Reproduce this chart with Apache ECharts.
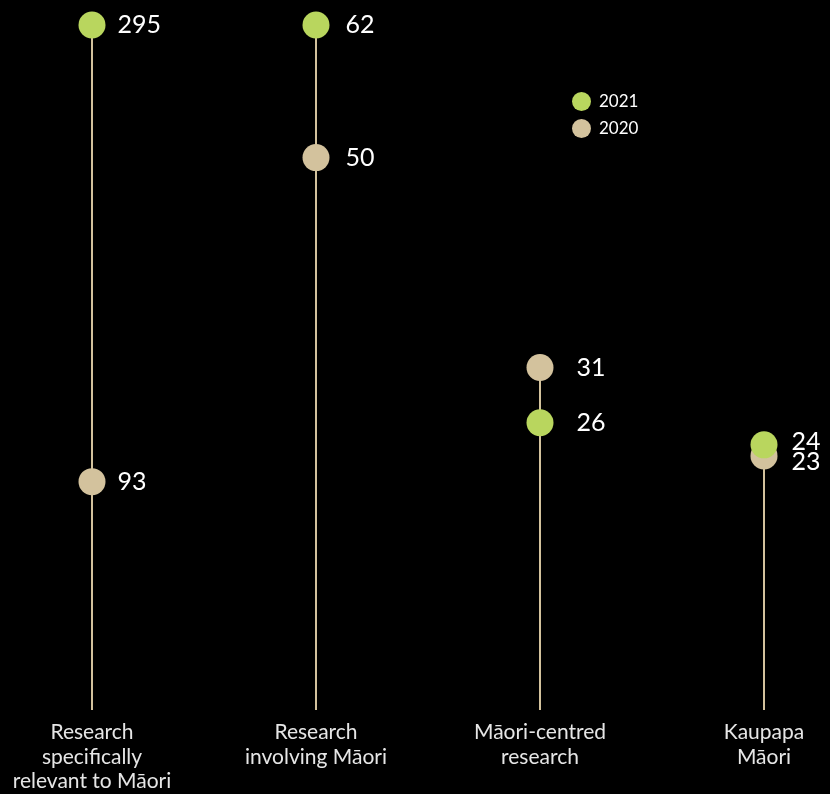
<!DOCTYPE html>
<html>
<head>
<meta charset="utf-8">
<script src="https://cdn.jsdelivr.net/npm/echarts@6/dist/echarts.min.js"></script>
<style>
  html, body { margin: 0; padding: 0; background: #000; }
  #chart { width: 830px; height: 794px; }
</style>
</head>
<body>
<div id="chart"></div>
<script>
// ---- data ----
const categories = ['Research\nspecifically\nrelevant to Māori', 'Research\ninvolving Māori', 'Māori-centred\nresearch', 'Kaupapa\nMāori'];
const years = ['2021', '2020'];
const values2021 = [295, 62, 26, 24];
const values2020 = [93, 50, 31, 23];
// which hidden scale each category uses (first category drawn on its own scale)
const scaleIndex = [0, 1, 1, 1];

// ---- layout / style ----
const labelGap = [12, 16, 23, 14];
const labelDy2020 = [0, 0, 0, 6];
const labelDy2021 = [0, 0, 0, -3];
const GREEN = '#b9d65e';
const TAN = '#d3c29d';
const FONT = 'Lato, "Noto Sans", sans-serif';

function pointsFor(values, axisIdx, dyArr) {
  const out = [];
  values.forEach((v, i) => {
    if (scaleIndex[i] !== axisIdx) return;
    out.push({
      value: [i, v],
      label: { distance: labelGap[i], offset: [0, dyArr[i]] }
    });
  });
  return out;
}

function stemsFor(axisIdx) {
  const out = [];
  categories.forEach((c, i) => {
    if (scaleIndex[i] !== axisIdx) return;
    out.push([i, Math.max(values2021[i], values2020[i])]);
  });
  return out;
}

function stemSeries(axisIdx) {
  return {
    type: 'custom',
    yAxisIndex: axisIdx,
    silent: true,
    z: 1,
    data: stemsFor(axisIdx),
    renderItem: function (params, api) {
      const top = api.coord([api.value(0), api.value(1)]);
      const bottom = params.coordSys.y + params.coordSys.height;
      return {
        type: 'line',
        shape: { x1: top[0], y1: top[1], x2: top[0], y2: bottom },
        style: { stroke: TAN, lineWidth: 2 }
      };
    }
  };
}

function dotSeries(name, values, axisIdx, color, z, dyArr) {
  return {
    name: name,
    type: 'scatter',
    yAxisIndex: axisIdx,
    symbol: 'circle',
    symbolSize: 27,
    z: z,
    itemStyle: { color: color, opacity: 1 },
    label: {
      show: true,
      position: 'right',
      color: '#ffffff',
      fontSize: 25,
      fontFamily: FONT,
      formatter: p => String(p.value[1])
    },
    data: pointsFor(values, axisIdx, dyArr)
  };
}

const chart = echarts.init(document.getElementById('chart'), null, { renderer: 'canvas' });
chart.setOption({
  backgroundColor: '#000000',
  animation: false,
  legend: {
    data: years,
    orient: 'vertical',
    left: 567,
    top: 87,
    itemWidth: 19,
    itemHeight: 19,
    itemGap: 8,
    icon: 'circle',
    textStyle: { color: '#ffffff', fontSize: 17, fontFamily: FONT, padding: [0, 0, 0, 3] }
  },
  grid: { left: 92, right: 66, top: 25, bottom: 84, containLabel: false },
  xAxis: {
    type: 'category',
    data: categories,
    boundaryGap: false,
    axisLine: { show: false },
    axisTick: { show: false },
    splitLine: { show: false },
    axisLabel: {
      interval: 0,
      color: '#e6e6e6',
      fontSize: 21,
      fontFamily: FONT,
      lineHeight: 24.5,
      margin: 10,
      verticalAlign: 'top',
      align: 'center'
    }
  },
  yAxis: [
    { type: 'value', min: -8, max: 295, show: false, splitLine: { show: false } },
    { type: 'value', min: 0, max: 62, show: false, splitLine: { show: false } }
  ],
  series: [
    stemSeries(0),
    stemSeries(1),
    dotSeries('2020', values2020, 0, TAN, 2, labelDy2020),
    dotSeries('2020', values2020, 1, TAN, 2, labelDy2020),
    dotSeries('2021', values2021, 0, GREEN, 3, labelDy2021),
    dotSeries('2021', values2021, 1, GREEN, 3, labelDy2021)
  ]
});
</script>
</body>
</html>
